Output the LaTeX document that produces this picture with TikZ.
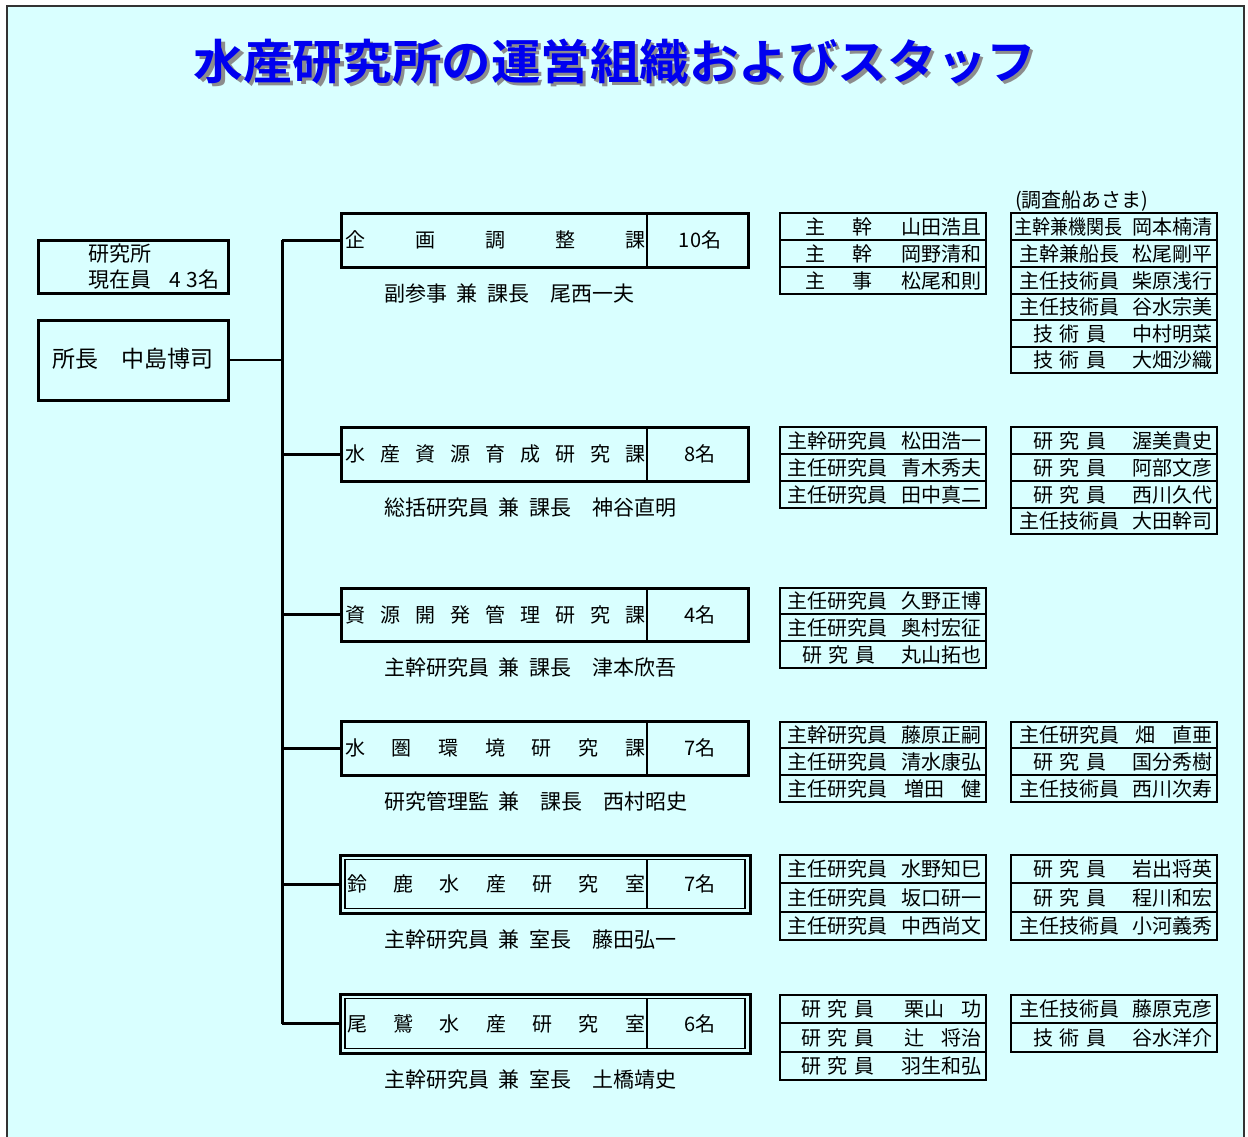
\documentclass[tikz,border=0pt]{standalone}
\usepackage{fontspec}
\setmainfont{Noto Sans CJK JP}[BoldFont={Noto Sans CJK JP Bold}]
\definecolor{bgcyan}{HTML}{D9FFFF}
\definecolor{ttlblue}{HTML}{0000F0}
\definecolor{ttlshadow}{HTML}{8C8C8C}
\newcommand\hsp{\hspace{0.45em}}
\newcommand\tsp{\hspace{6.5pt}}
\newcommand\ttltext{水産研究所の運営組織およびスタッフ}
% staff cell: name, x1, y1, x2, y2, title x, title, staff name
\newcommand\scell[8]{%
  \node[cell, anchor=north west, minimum width={#4-#2}, minimum height={#5-#3}] (#1) at (#2,#3) {};
  \node[stxt, anchor=west] (#1t) at (#6,{(#3+#5)/2}) {#7};
  \node[stxt, anchor=east] (#1n) at ({#4-4},{(#3+#5)/2}) {#8};}
% department: name, ytop, ybot, spread text, count, head
\newcommand\dept[6]{%
  \node[box, anchor=north west, minimum width=407, minimum height={#3-#2}] (#1) at (341,#2) {};
  \draw[line width=2pt] (647,#2) -- (647,#3);
  \node[dtxt, anchor=west] (#1t) at (345,{(#2+#3)/2}) {\hbox to 300pt{#4}};
  \node[dtxt] (#1c) at (700,{(#2+#3)/2}) {#5};
  \node[htxt, anchor=west] (#1h) at (384,{#3+26.5}) {#6};}
% double-bordered room
\newcommand\room[6]{%
  \node[box, anchor=north west, minimum width=410, minimum height={#3-#2}] (#1) at (340,#2) {};
  \draw[line width=1.6pt] (345,{#2+4.5}) rectangle (745,{#3-4.5});
  \draw[line width=2pt] (647,{#2+4.5}) -- (647,{#3-4.5});
  \node[dtxt, anchor=west] (#1t) at (347,{(#2+#3)/2}) {\hbox to 298pt{#4}};
  \node[dtxt] (#1c) at (700,{(#2+#3)/2}) {#5};
  \node[htxt, anchor=west] (#1h) at (384,{#3+26.5}) {#6};}
\begin{document}
\begin{tikzpicture}[x=1pt,y=-1pt,
  box/.style={draw, line width=3pt, inner sep=0pt, outer sep=0pt},
  cell/.style={draw, line width=2.4pt, inner sep=0pt, outer sep=0pt},
  stxt/.style={inner sep=0pt, font=\fontsize{20}{22}\selectfont},
  dtxt/.style={inner sep=0pt, font=\fontsize{20}{22}\selectfont},
  htxt/.style={inner sep=0pt, font=\fontsize{21}{23}\selectfont},
  trunkline/.style={line width=3pt},
  thinline/.style={line width=1.4pt}]
\useasboundingbox (0,0) rectangle (1248,1137);
\fill[white] (0,0) rectangle (1248,1137);
\fill[bgcyan] (7,6) rectangle (1244,1140);
\draw[line width=2.2pt, black!80] (7,1140) -- (7,6) -- (1244,6) -- (1244,1140);

% title (with drop shadow in the same node)
\node[inner sep=0pt, font=\fontsize{47.5}{50}\selectfont\bfseries] (title) at (615,63)
  {\scalebox{1.043}[1]{\rlap{\hspace{3pt}\raisebox{-3pt}{\color{ttlshadow}\ttltext}}\color{ttlblue}\ttltext}};

% left boxes
\node[box, anchor=north west, minimum width=190, minimum height=53] (total) at (38,240) {};
\node[inner sep=0pt, anchor=west, font=\fontsize{21}{23}\selectfont] (total1) at (88,254) {研究所};
\node[inner sep=0pt, anchor=west, font=\fontsize{21}{23}\selectfont] (total2) at (88,280) {現在員\hspace{18pt}4\hspace{6pt}3名};
\node[box, anchor=north west, minimum width=190, minimum height=80] (chief) at (38,320) {};
\node[inner sep=0pt, font=\fontsize{23}{25}\selectfont] (chieft) at (133,359) {所長　中島博司};

% departments
\dept{d1}{213}{267}{企\hfil 画\hfil 調\hfil 整\hfil 課}{10名}{副参事\hsp 兼\hsp 課長　尾西一夫}
\dept{d2}{427}{481}{水\hfil 産\hfil 資\hfil 源\hfil 育\hfil 成\hfil 研\hfil 究\hfil 課}{8名}{総括研究員\hsp 兼\hsp 課長　神谷直明}
\dept{d3}{588}{641}{資\hfil 源\hfil 開\hfil 発\hfil 管\hfil 理\hfil 研\hfil 究\hfil 課}{4名}{主幹研究員\hsp 兼\hsp 課長　津本欣吾}
\dept{d4}{721}{775}{水\hfil 圏\hfil 環\hfil 境\hfil 研\hfil 究\hfil 課}{7名}{研究管理監\hsp 兼　課長　西村昭史}
\room{d5}{855}{913}{鈴\hfil 鹿\hfil 水\hfil 産\hfil 研\hfil 究\hfil 室}{7名}{主幹研究員\hsp 兼\hsp 室長　藤田弘一}
\room{d6}{994}{1053}{尾\hfil 鷲\hfil 水\hfil 産\hfil 研\hfil 究\hfil 室}{6名}{主幹研究員\hsp 兼\hsp 室長　土橋靖史}

% trunk and branches
\coordinate (trunktop) at (282,240);
\coordinate (trunkbot) at (282,1023.5);
\draw[trunkline] (trunktop) -- (trunkbot);
\foreach \d in {d1,d2,d3,d4,d5,d6} {
  \draw[trunkline] (\d.west -| trunktop) -- (\d.west);
}
\draw[thinline] (chief.east) -- (chief.east -| trunktop);

% staff row 1
\scell{a1}{780}{213}{986}{240}{805}{主\hspace{27pt}幹}{山田浩且}
\scell{a2}{780}{240}{986}{267}{805}{主\hspace{27pt}幹}{岡野清和}
\scell{a3}{780}{267}{986}{294}{805}{主\hspace{27pt}事}{松尾和則}
\node[stxt, anchor=west] (asama) at (1015,201) {(調査船あさま)};
\scell{b1}{1011}{213}{1217}{240}{1014}{\scalebox{0.9}[1]{主幹兼機関長}}{岡本楠清}
\scell{b2}{1011}{240}{1217}{267}{1019}{主幹兼船長}{松尾剛平}
\scell{b3}{1011}{267}{1217}{294}{1019}{主任技術員}{柴原浅行}
\scell{b4}{1011}{294}{1217}{320}{1019}{主任技術員}{谷水宗美}
\scell{b5}{1011}{320}{1217}{347}{1033}{技\tsp 術\tsp 員}{中村明菜}
\scell{b6}{1011}{347}{1217}{373}{1033}{技\tsp 術\tsp 員}{大畑沙織}

% staff row 2
\scell{c1}{780}{427}{986}{454}{787}{主幹研究員}{松田浩一}
\scell{c2}{780}{454}{986}{481}{787}{主任研究員}{青木秀夫}
\scell{c3}{780}{481}{986}{508}{787}{主任研究員}{田中真二}
\scell{e1}{1011}{427}{1217}{454}{1033}{研\tsp 究\tsp 員}{渥美貴史}
\scell{e2}{1011}{454}{1217}{481}{1033}{研\tsp 究\tsp 員}{阿部文彦}
\scell{e3}{1011}{481}{1217}{508}{1033}{研\tsp 究\tsp 員}{西川久代}
\scell{e4}{1011}{508}{1217}{534}{1019}{主任技術員}{大田幹司}

% staff row 3
\scell{f1}{780}{588}{986}{614}{787}{主任研究員}{久野正博}
\scell{f2}{780}{614}{986}{641}{787}{主任研究員}{奥村宏征}
\scell{f3}{780}{641}{986}{668}{802}{研\tsp 究\tsp 員}{丸山拓也}

% staff row 4
\scell{g1}{780}{722}{986}{748}{787}{主幹研究員}{藤原正嗣}
\scell{g2}{780}{748}{986}{775}{787}{主任研究員}{清水康弘}
\scell{g3}{780}{775}{986}{802}{787}{主任研究員}{増田\hspace{17pt}健}
\scell{h1}{1011}{722}{1217}{748}{1019}{主任研究員}{畑\hspace{17pt}直亜}
\scell{h2}{1011}{748}{1217}{775}{1033}{研\tsp 究\tsp 員}{国分秀樹}
\scell{h3}{1011}{775}{1217}{802}{1019}{主任技術員}{西川次寿}

% staff row 5
\scell{i1}{780}{855}{986}{883}{787}{主任研究員}{水野知巳}
\scell{i2}{780}{883}{986}{912}{787}{主任研究員}{坂口研一}
\scell{i3}{780}{912}{986}{940}{787}{主任研究員}{中西尚文}
\scell{j1}{1011}{855}{1217}{883}{1033}{研\tsp 究\tsp 員}{岩出将英}
\scell{j2}{1011}{883}{1217}{912}{1033}{研\tsp 究\tsp 員}{程川和宏}
\scell{j3}{1011}{912}{1217}{940}{1019}{主任技術員}{小河義秀}

% staff row 6
\scell{k1}{780}{995}{986}{1023}{801}{研\tsp 究\tsp 員}{栗山\hspace{17pt}功\hspace{8pt}}
\scell{k2}{780}{1023}{986}{1052}{801}{研\tsp 究\tsp 員}{辻\hspace{17pt}将治\hspace{8pt}}
\scell{k3}{780}{1052}{986}{1080}{801}{研\tsp 究\tsp 員}{羽生和弘\hspace{8pt}}
\scell{l1}{1011}{995}{1217}{1023}{1019}{主任技術員}{藤原克彦}
\scell{l2}{1011}{1023}{1217}{1052}{1033}{技\tsp 術\tsp 員}{谷水洋介}
\end{tikzpicture}
\end{document}
